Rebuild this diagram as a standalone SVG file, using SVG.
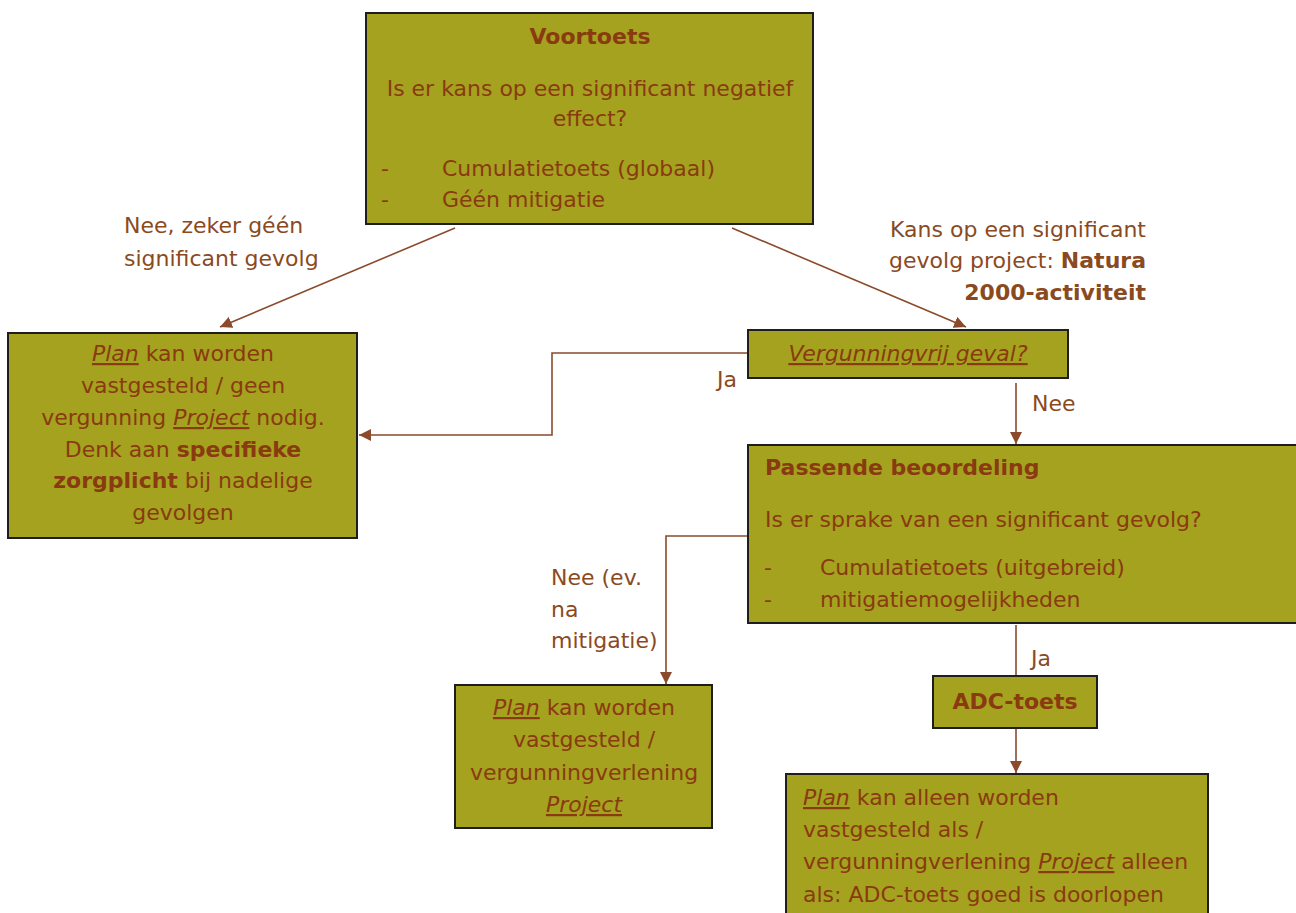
<svg xmlns="http://www.w3.org/2000/svg" width="1296" height="913" viewBox="0 0 1296 913">
<defs>
<style>
.box{fill:#A5A21F;stroke:#1e1e1e;stroke-width:2}
.t{font-family:"DejaVu Sans",Verdana,sans-serif;font-size:22px;fill:#8A3A10}
.b{font-weight:bold}
.lbl{font-family:"DejaVu Sans",Verdana,sans-serif;font-size:22px;fill:#8B4A1E}
.c{text-anchor:middle}
.e{text-anchor:end}
.u{text-decoration:underline;font-style:italic}
.con{fill:none;stroke:#8B4A2B;stroke-width:1.6}
</style>
<marker id="ah" viewBox="0 0 10 10" refX="10" refY="5" markerWidth="7.5" markerHeight="7.5" orient="auto" markerUnits="strokeWidth">
<path d="M0,0 L10,5 L0,10 z" fill="#8B4A2B"/>
</marker>
</defs>
<rect width="1296" height="913" fill="#fff"/>

<g id="connectors">
<line class="con" x1="455" y1="228" x2="220" y2="327" marker-end="url(#ah)"/>
<line class="con" x1="732" y1="228" x2="966" y2="327" marker-end="url(#ah)"/>
<polyline class="con" points="748,353 552,353 552,435 359,435" marker-end="url(#ah)"/>
<line class="con" x1="1016" y1="383" x2="1016" y2="444" marker-end="url(#ah)"/>
<polyline class="con" points="748,536 666,536 666,684" marker-end="url(#ah)"/>
<line class="con" x1="1016" y1="625" x2="1016" y2="676"/>
<line class="con" x1="1016" y1="728" x2="1016" y2="773" marker-end="url(#ah)"/>
<text class="lbl" x="124" y="233">Nee, zeker géén</text>
<text class="lbl" x="124" y="266">significant gevolg</text>
<text class="lbl e" x="1146" y="237">Kans op een significant</text>
<text class="lbl e" x="1146" y="268">gevolg project: <tspan class="b">Natura</tspan></text>
<text class="lbl e b" x="1146" y="300">2000-activiteit</text>
<text class="lbl" x="717" y="387">Ja</text>
<text class="lbl" x="1032" y="411">Nee</text>
<text class="lbl" x="551" y="585">Nee (ev.</text>
<text class="lbl" x="551" y="617">na</text>
<text class="lbl" x="551" y="648">mitigatie)</text>
<text class="lbl" x="1031" y="666">Ja</text>
</g>

<g id="voortoets">
<rect class="box" x="366" y="13" width="447" height="211"/>
<text class="t b c" x="590" y="44">Voortoets</text>
<text class="t c" x="590" y="96">Is er kans op een significant negatief</text>
<text class="t c" x="590" y="126">effect?</text>
<text class="t" x="381" y="176">-</text>
<text class="t" x="442" y="176">Cumulatietoets (globaal)</text>
<text class="t" x="381" y="207">-</text>
<text class="t" x="442" y="207">Géén mitigatie</text>
</g>

<g id="plan-vastgesteld-geen-vergunning">
<rect class="box" x="8" y="333" width="349" height="205"/>
<text class="t c" x="183" y="361"><tspan class="u">Plan</tspan> kan worden</text>
<text class="t c" x="183" y="393">vastgesteld / geen</text>
<text class="t c" x="183" y="425">vergunning <tspan class="u">Project</tspan> nodig.</text>
<text class="t c" x="183" y="457">Denk aan <tspan class="b">specifieke</tspan></text>
<text class="t c" x="183" y="488"><tspan class="b">zorgplicht</tspan> bij nadelige</text>
<text class="t c" x="183" y="520">gevolgen</text>
</g>

<g id="vergunningvrij">
<rect class="box" x="748" y="330" width="320" height="48"/>
<text class="t c u" x="908" y="361">Vergunningvrij geval?</text>
</g>

<g id="passende-beoordeling">
<rect class="box" x="748" y="445" width="560" height="178"/>
<text class="t b" x="765" y="475">Passende beoordeling</text>
<text class="t" x="765" y="527">Is er sprake van een significant gevolg?</text>
<text class="t" x="764" y="575">-</text>
<text class="t" x="820" y="575">Cumulatietoets (uitgebreid)</text>
<text class="t" x="764" y="607">-</text>
<text class="t" x="820" y="607">mitigatiemogelijkheden</text>
</g>

<g id="plan-vergunningverlening">
<rect class="box" x="455" y="685" width="257" height="143"/>
<text class="t c" x="584" y="715"><tspan class="u">Plan</tspan> kan worden</text>
<text class="t c" x="584" y="747">vastgesteld /</text>
<text class="t c" x="584" y="780">vergunningverlening</text>
<text class="t c u" x="584" y="812">Project</text>
</g>

<g id="adc-toets">
<rect class="box" x="933" y="676" width="164" height="52"/>
<text class="t b c" x="1015" y="709">ADC-toets</text>
</g>

<g id="plan-alleen">
<rect class="box" x="786" y="774" width="422" height="145"/>
<text class="t" x="803" y="805"><tspan class="u">Plan</tspan> kan alleen  worden</text>
<text class="t" x="803" y="837">vastgesteld als /</text>
<text class="t" x="803" y="869">vergunningverlening <tspan class="u">Project</tspan> alleen</text>
<text class="t" x="803" y="902">als: ADC-toets goed is doorlopen</text>
</g>
</svg>
